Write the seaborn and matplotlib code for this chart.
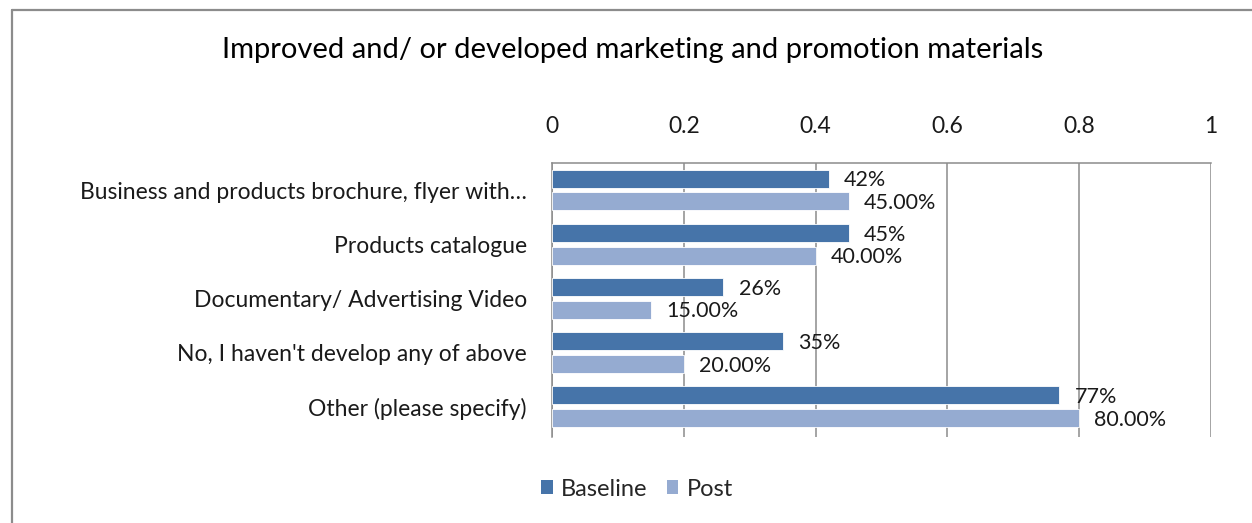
import numpy as np
import pandas as pd
import matplotlib
matplotlib.use("Agg")
import matplotlib.pyplot as plt
from matplotlib.lines import Line2D
from matplotlib.patches import Patch
import seaborn as sns

categories = [
    "Business and products brochure, flyer with\u2026",
    "Products catalogue",
    "Documentary/ Advertising Video",
    "No, I haven't develop any of above",
    "Other (please specify)",
]
baseline = [0.42, 0.45, 0.26, 0.35, 0.77]
post = [0.45, 0.40, 0.15, 0.20, 0.80]
series = ["Baseline", "Post"]
x_ticks = [0, 0.2, 0.4, 0.6, 0.8, 1]
x_tick_labels = ["0", "0.2", "0.4", "0.6", "0.8", "1"]
title = "Improved and/ or developed marketing and promotion materials"

colors = {"Baseline": "#4674A9", "Post": "#95ABD1"}

df = pd.DataFrame({
    "category": categories * 2,
    "series": [series[0]] * len(categories) + [series[1]] * len(categories),
    "value": baseline + post,
})

sns.set_theme(style="white")
plt.rcParams["font.family"] = ["Lato", "DejaVu Sans"]

fig = plt.figure(figsize=(12.52, 5.23), dpi=100)
W, H = 1252, 523
ax = fig.add_axes([552 / W, 1 - 437 / H, (1211 - 552) / W, (437 - 163) / H])

sns.barplot(
    data=df, y="category", x="value", hue="series", order=categories,
    hue_order=series, palette=colors, saturation=1, orient="h", width=0.84,
    gap=0.21, edgecolor="white", linewidth=0.6, legend=False, ax=ax, zorder=3,
)

ax.set_xlim(0, 1)
ax.set_ylim(len(categories) - 0.5 + 0.06, -0.5)
ax.xaxis.tick_top()
ax.set_xticks(x_ticks)
ax.set_xticklabels(x_tick_labels)
ax.tick_params(axis="x", which="both", length=0, pad=19, labelsize=16.5, colors="#1a1a1a")
ax.tick_params(axis="y", length=0, pad=18, labelsize=16.5, colors="#1a1a1a")
ax.set_xlabel("")
ax.set_ylabel("")
ax.grid(axis="x", color="#8c8c8c", linewidth=1.1, zorder=0)
ax.grid(axis="y", visible=False)

for side in ["right", "bottom"]:
    ax.spines[side].set_visible(False)
for side in ["left", "top"]:
    ax.spines[side].set_visible(True)
    ax.spines[side].set_color("#8c8c8c")
    ax.spines[side].set_linewidth(1.1)

# value labels next to each bar, nudged slightly below the bar centre
for container, fmt in zip(ax.containers, ["{:.0%}", "{:.2%}"]):
    labels = [fmt.format(bar.get_width()) for bar in container]
    texts = ax.bar_label(container, labels=labels, padding=11, fontsize=15.5,
                         color="#1a1a1a")
    for t in texts:
        x, y = t.xyann
        t.xyann = (x, y - 1.2)

fig.suptitle(title, x=633 / W, y=1 - 50 / H, va="center", fontsize=21,
             color="#000000")

handles = [Patch(facecolor=colors[s], edgecolor="none") for s in series]
fig.legend(handles, series, loc="center", bbox_to_anchor=(637 / W, 1 - 489 / H),
           ncol=2, frameon=False, fontsize=17, handlelength=0.5,
           handleheight=0.5, handletextpad=0.35, columnspacing=0.8)

# outer chart border (left and top edges visible)
fig.add_artist(Line2D([11.5 / W, 11.5 / W], [0, 1 - 10 / H], transform=fig.transFigure,
                      color="#8c8c8c", linewidth=1.6))
fig.add_artist(Line2D([11.5 / W, 1], [1 - 10 / H, 1 - 10 / H], transform=fig.transFigure,
                      color="#8c8c8c", linewidth=1.6))

fig.savefig("out.png", dpi=100, facecolor="white")
